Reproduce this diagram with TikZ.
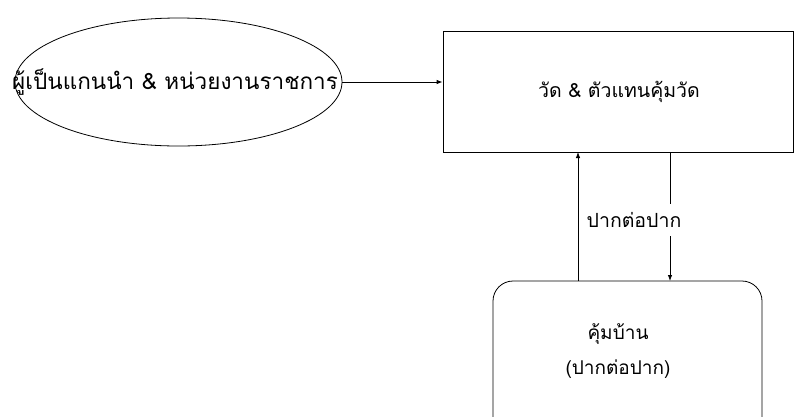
\documentclass[tikz,border=0pt]{standalone}
\usepackage{fontspec}
\setmainfont{Liberation Serif}
\newfontfamily\thaifont[Script=Thai]{Loma}
\usetikzlibrary{shapes.geometric,arrows.meta}
\tikzset{
  conn/.style={line width=0.8pt,-{Latex[length=6pt,width=4.5pt]}},
  shapeline/.style={draw,line width=0.8pt},
  lbl/.style={font=\thaifont\fontsize{19.5}{24}\selectfont,inner sep=1pt},
  biglbl/.style={font=\thaifont\fontsize{22.5}{27}\selectfont,inner sep=1pt}
}
\begin{document}
\begin{tikzpicture}[x=1pt,y=-1pt]
\useasboundingbox (0,0) rectangle (794,416);
\clip (0,0) rectangle (794,416);
\node[shapeline,ellipse,minimum width=327pt,minimum height=128pt,inner sep=0pt] (lead) at (178.5,82) {};
\node[biglbl] (leadtxt) at (175,82) {ผู้เป็นแกนนำ \& หน่วยงานราชการ};
\node[shapeline,rectangle,minimum width=350pt,minimum height=121pt,inner sep=0pt] (wat) at (618,91.5) {};
\node[lbl] (wattxt) at (619,92) {วัด \& ตัวแทนคุ้มวัด};
\node[shapeline,rectangle,rounded corners=20pt,minimum width=269pt,minimum height=160pt,inner sep=0pt] (kum) at (627.5,361) {};
\node[lbl,font=\thaifont\fontsize{19}{35}\selectfont,align=center] (kumtxt) at (618,351) {คุ้มบ้าน\\(ปากต่อปาก)};
\coordinate (upS) at (578,281);
\coordinate (upE) at (578,152);
\coordinate (dnS) at (670,152);
\coordinate (dnE) at (670,281);
\draw[conn] (lead.east) -- (lead.east -| wat.west);
\draw[conn] (upS) -- (upE);
\draw[conn] (dnS) -- (dnE);
\node[lbl,fill=white,inner xsep=5pt,inner ysep=8pt] (mouth) at (634,220) {ปากต่อปาก};
\end{tikzpicture}
\end{document}
